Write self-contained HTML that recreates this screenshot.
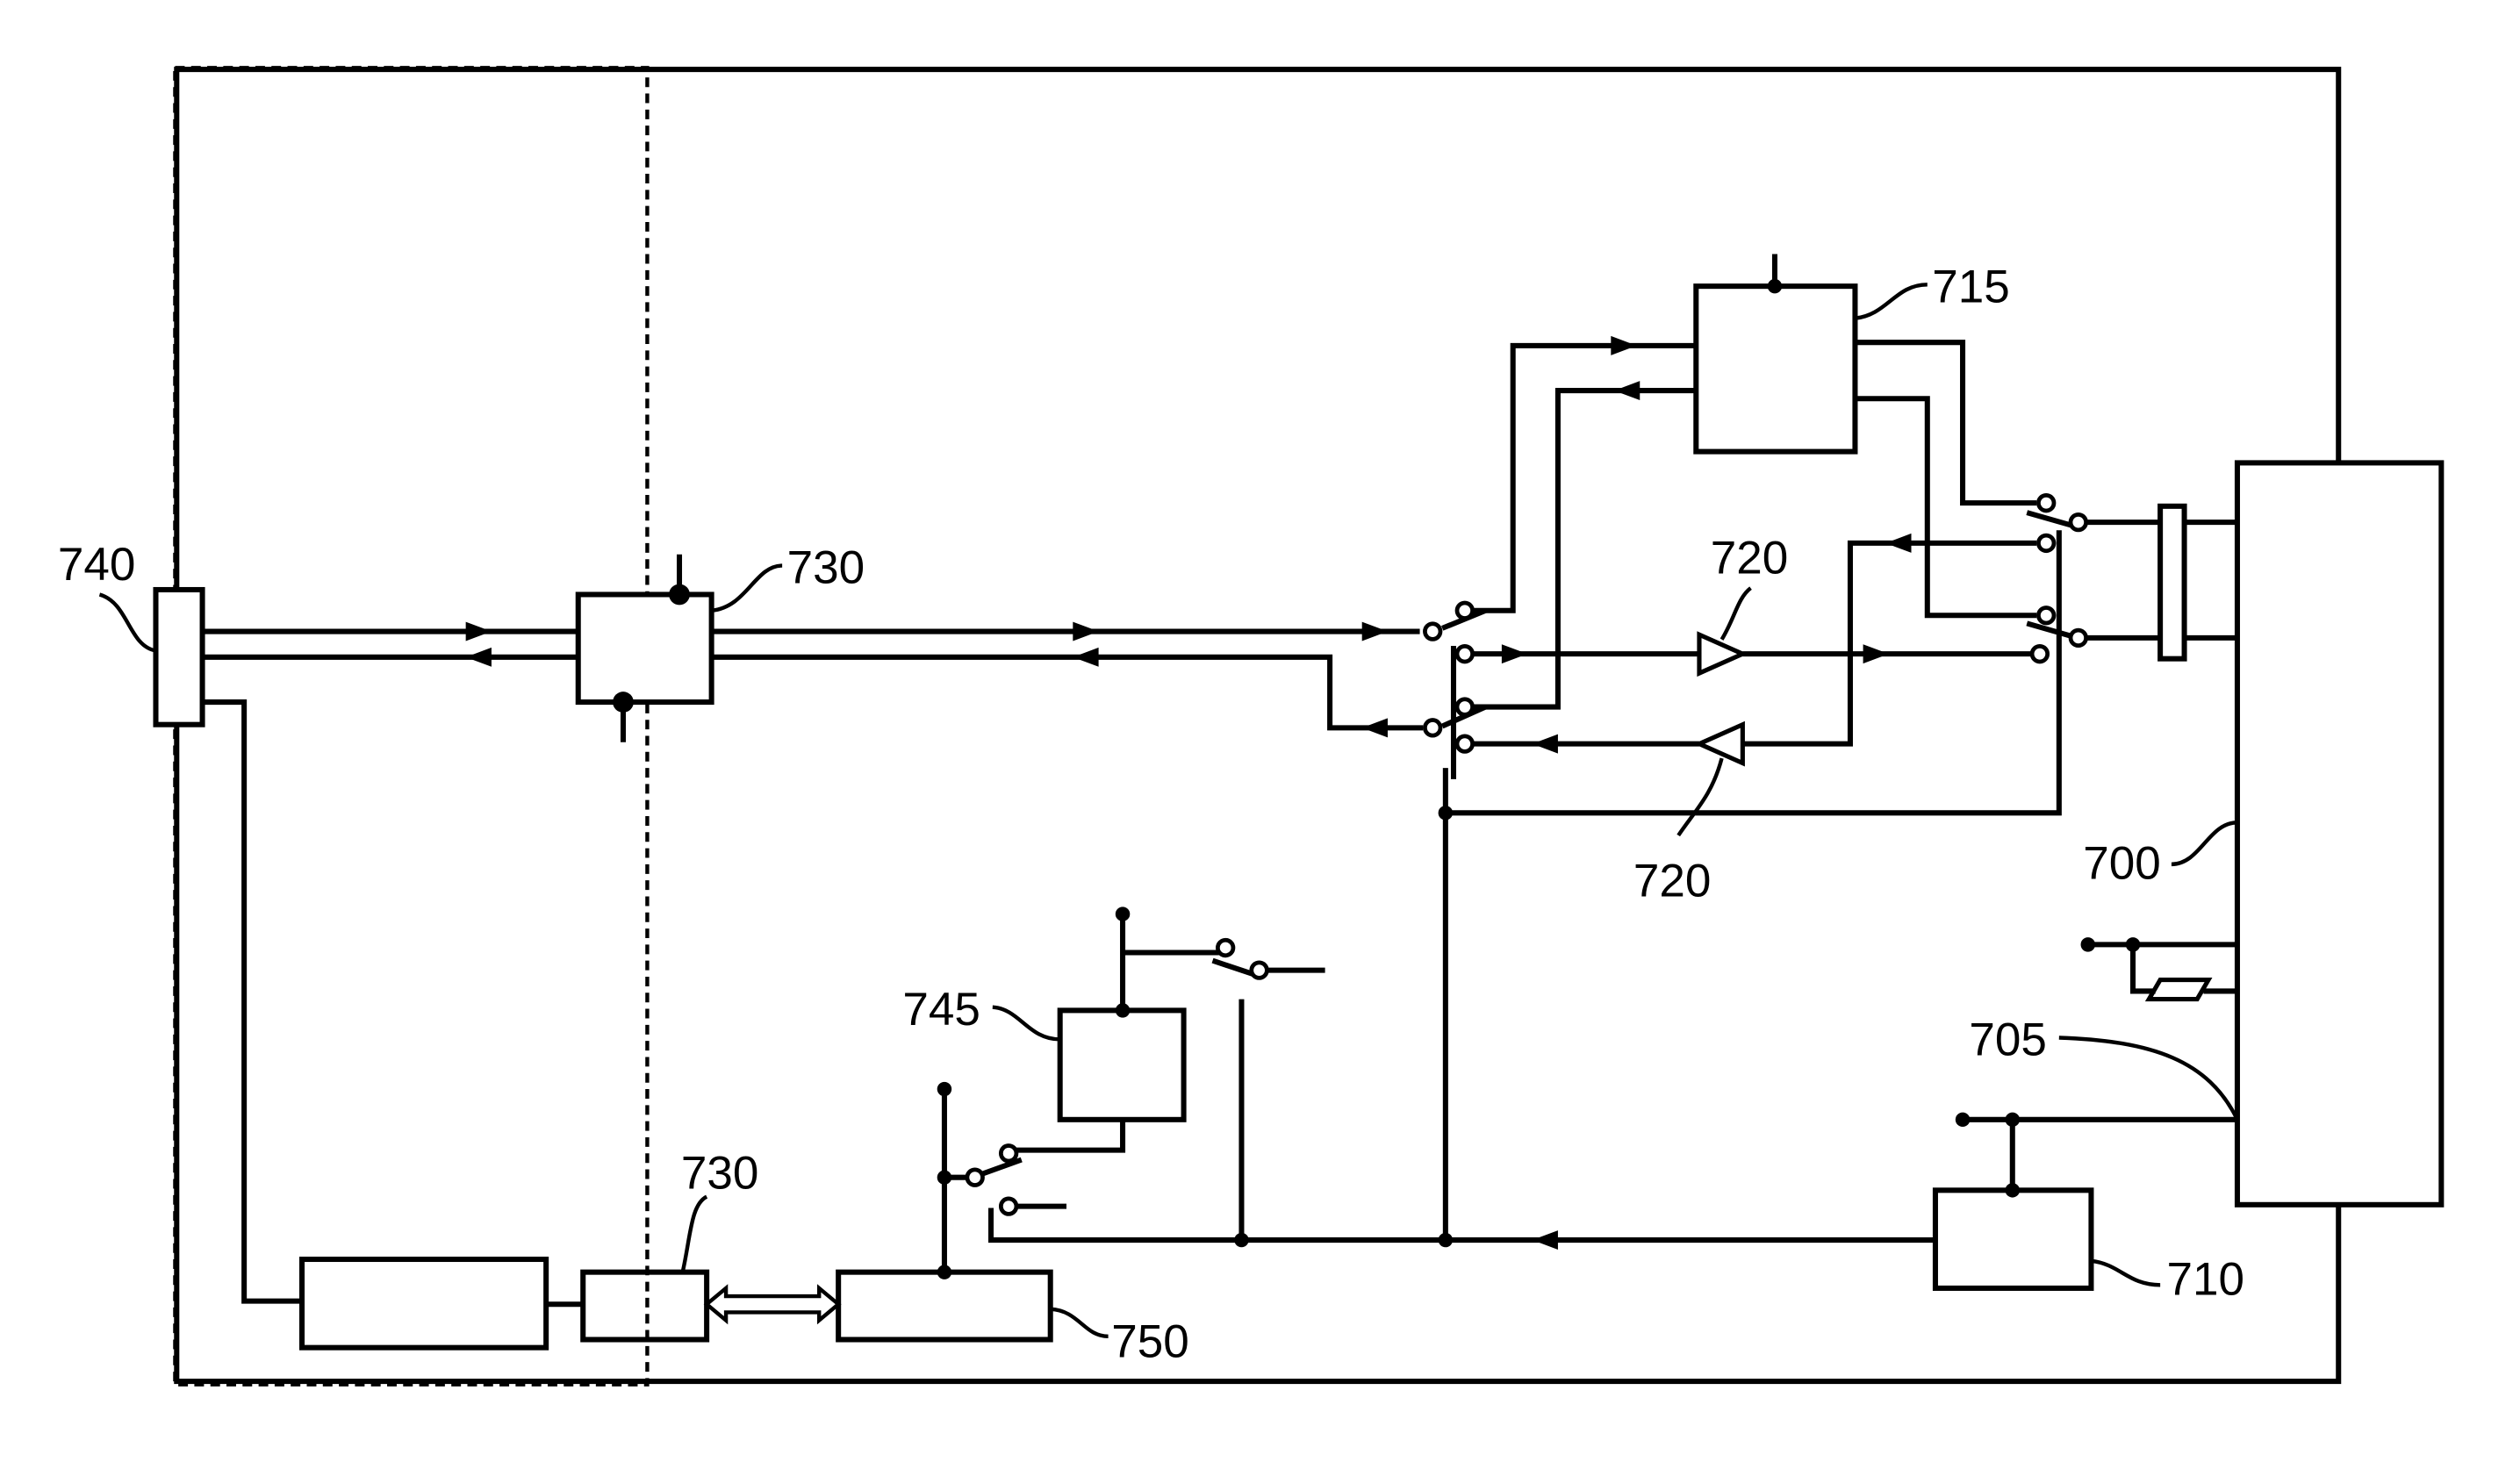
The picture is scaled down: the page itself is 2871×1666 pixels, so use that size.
<!DOCTYPE html>
<html><head><meta charset="utf-8"><style>html,body{margin:0;padding:0;background:#fff}svg{display:block}</style></head>
<body>
<svg xmlns="http://www.w3.org/2000/svg" width="2871" height="1666" viewBox="0 0 1569 910">
<defs>
<marker id="ar" viewBox="0 0 10 10" refX="5" refY="5" markerWidth="5" markerHeight="5" orient="auto"><path d="M0,0 L10,5 L0,10 z" fill="#000"/></marker>
</defs>
<g fill="none" stroke="#000" stroke-width="3.3">
<rect x="110" y="43" width="1346" height="817" fill="#fff"/>
<rect x="109" y="42" width="294" height="820" stroke-dasharray="6,4" stroke-width="2.4"/>
<rect x="1393" y="288" width="127" height="462" fill="#fff"/>
<rect x="97" y="367" width="29" height="84" fill="#fff"/>
<!-- main lines -->
<path d="M126,393 H360 M126,409 H360"/>
<path d="M126,437 H152 V810 H188"/>
<rect x="188" y="784" width="152" height="55"/>
<path d="M340,812 H363"/>
<rect x="363" y="792" width="77" height="42"/>
<rect x="522" y="792" width="132" height="42"/>
<rect x="360" y="370" width="83" height="67" fill="#fff"/>
<path d="M423,345 V370 M388,437 V462"/>
<path d="M443,393 H884 M443,409 H828 V453 H886"/>
<!-- switch cluster A -->
<path d="M898,391 L925,380 M898,452 L925,440 M905,402 V485 M900,478 V772"/>
<path d="M917,380 H942 V215 H1056 M917,407 H1058 M917,440 H970 V243 H1056 M917,463 H1058"/>
<path d="M1085,407 H1268 M1085,463 H1152 V338 H1268"/>
<path d="M1058,395 L1085,407 L1058,419 Z M1085,451 L1058,463 L1085,475 Z" stroke-width="2.8"/>
<path d="M900,506 H1282 V420 M1282,430 V330"/>
<rect x="1056" y="178" width="99" height="103"/>
<path d="M1105,158 V178 M1155,213 H1222 V313 H1268 M1155,248 H1200 V383 H1268"/>
<path d="M1262,319 L1290,327 M1262,388 L1290,396"/>
<path d="M1299,325 H1345 M1299,397 H1345 M1360,325 H1393 M1360,397 H1393"/>
<rect x="1345" y="315" width="15" height="95"/>
<!-- 700 area -->
<path d="M1300,588 H1393 M1328,588 V617 H1342 M1372,617 H1393"/>
<path d="M1345,610 H1375 L1368,622 H1338 Z" stroke-width="2.8"/>
<path d="M1222,697 H1393 M1253,697 V741"/>
<rect x="1205" y="741" width="97" height="61"/>
<path d="M1205,772 H617 V752 M773,772 V622"/>
<path d="M699,569 V629 M699,593 H759 M755,598 L782,607 M788,604 H825"/>
<rect x="660" y="629" width="77" height="68"/>
<path d="M699,697 V716 H632 M611,731 L636,722 M588,678 V792 M588,733 H603 M632,751 H664"/>
<!-- double arrow -->
<path d="M440,812 L452,802 V807 H510 V802 L522,812 L510,822 V817 H452 V822 Z" stroke-width="2.4"/>
<!-- leaders -->
<g stroke-width="2.4">
<path d="M443,380 C465,378 470,352 487,352"/>
<path d="M97,405 C80,402 80,375 62,370"/>
<path d="M1155,198 C1175,196 1180,177 1200,177"/>
<path d="M1072,398 C1080,385 1082,372 1090,366"/>
<path d="M1072,472 C1066,495 1055,505 1045,520"/>
<path d="M1393,512 C1375,512 1370,538 1352,538"/>
<path d="M1282,646 C1340,648 1375,660 1393,697"/>
<path d="M1302,785 C1320,787 1325,800 1345,800"/>
<path d="M654,815 C672,816 675,832 690,832"/>
<path d="M425,792 C430,770 430,750 440,745"/>
<path d="M660,647 C640,647 635,628 618,627"/>
</g>
</g>
<!-- arrows -->
<g fill="#000">
<path d="M290,387 L306,393 L290,399 Z M306,403 L290,409 L306,415 Z"/>
<path d="M668,387 L684,393 L668,399 Z M684,403 L668,409 L684,415 Z"/>
<path d="M864,447 L848,453 L864,459 Z M848,387 L864,393 L848,399 Z"/>
<path d="M935,401 L951,407 L935,413 Z M970,457 L954,463 L970,469 Z"/>
<path d="M1003,209 L1019,215 L1003,221 Z M1021,237 L1005,243 L1021,249 Z"/>
<path d="M1160,401 L1176,407 L1160,413 Z M1190,332 L1174,338 L1190,344 Z"/>
<path d="M970,766 L954,772 L970,778 Z"/>
<circle cx="423" cy="370" r="6.5"/><circle cx="388" cy="437" r="6.5"/>
<circle cx="1105" cy="178" r="4.5"/><circle cx="900" cy="506" r="4.5"/>
<circle cx="1300" cy="588" r="4.5"/><circle cx="1328" cy="588" r="4.5"/>
<circle cx="1222" cy="697" r="4.5"/><circle cx="1253" cy="697" r="4.5"/><circle cx="1253" cy="741" r="4.5"/>
<circle cx="900" cy="772" r="4.5"/><circle cx="773" cy="772" r="4.5"/>
<circle cx="699" cy="569" r="4.5"/><circle cx="699" cy="629" r="4.5"/>
<circle cx="588" cy="678" r="4.5"/><circle cx="588" cy="733" r="4.5"/><circle cx="588" cy="792" r="4.5"/>
</g>
<g fill="#fff" stroke="#000" stroke-width="2.6">
<circle cx="892" cy="393" r="4.8"/><circle cx="912" cy="380" r="4.8"/><circle cx="912" cy="407" r="4.8"/>
<circle cx="912" cy="440" r="4.8"/><circle cx="892" cy="453" r="4.8"/><circle cx="912" cy="463" r="4.8"/>
<circle cx="1274" cy="313" r="4.8"/><circle cx="1294" cy="325" r="4.8"/><circle cx="1274" cy="338" r="4.8"/>
<circle cx="1274" cy="383" r="4.8"/><circle cx="1294" cy="397" r="4.8"/><circle cx="1270" cy="407" r="4.8"/>
<circle cx="763" cy="590" r="4.8"/><circle cx="784" cy="604" r="4.8"/>
<circle cx="628" cy="718" r="4.8"/><circle cx="607" cy="733" r="4.8"/><circle cx="628" cy="751" r="4.8"/>
</g>
<g font-family="Liberation Sans, sans-serif" font-size="29" fill="#000">
<text x="36" y="361">740</text>
<text x="490" y="363">730</text>
<text x="424" y="740">730</text>
<text x="1203" y="188">715</text>
<text x="1065" y="357">720</text>
<text x="1017" y="558">720</text>
<text x="1297" y="547">700</text>
<text x="1226" y="657">705</text>
<text x="1349" y="806">710</text>
<text x="562" y="638">745</text>
<text x="692" y="845">750</text>
</g>
</svg>
</body></html>
